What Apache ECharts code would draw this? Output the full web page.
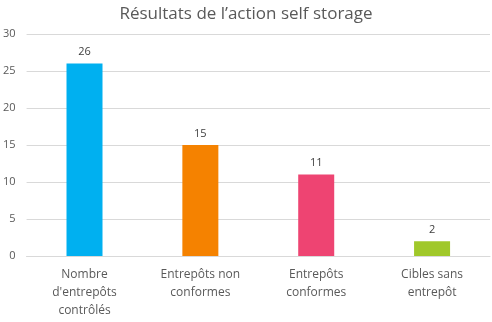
<!DOCTYPE html>
<html>
<head>
<meta charset="utf-8">
<style>
  html, body { margin: 0; padding: 0; background: #ffffff; }
  #chart { width: 492px; height: 322px; }
</style>
<script src="https://cdn.jsdelivr.net/npm/echarts@6/dist/echarts.min.js"></script>
</head>
<body>
<div id="chart"></div>
<script>
// Catégories et valeurs de l'action self storage
const categories = [
  "Nombre\nd'entrepôts\ncontrôlés",
  "Entrepôts non\nconformes",
  "Entrepôts\nconformes",
  "Cibles sans\nentrepôt"
];
const values = [26, 15, 11, 2];
const barColors = ['#00B0F0', '#F58200', '#EE4472', '#A0C82A'];
const yTicks = { min: 0, max: 30, interval: 5 };

const chart = echarts.init(document.getElementById('chart'), null, { renderer: 'canvas' });
const font = '"Open Sans", "Noto Sans", sans-serif';

chart.setOption({
  animation: false,
  title: {
    text: 'Résultats de l’action self storage',
    left: 'center',
    top: 1,
    textStyle: { color: '#595959', fontSize: 17, fontWeight: 'normal', fontFamily: font }
  },
  grid: { left: 26, right: 2, top: 34, bottom: 66, containLabel: false },
  xAxis: {
    type: 'category',
    data: categories,
    axisLine: { lineStyle: { color: '#D9D9D9' } },
    axisTick: { show: false },
    axisLabel: {
      color: '#595959', fontSize: 12, fontFamily: font,
      lineHeight: 18, margin: 10, interval: 0
    }
  },
  yAxis: {
    type: 'value',
    min: yTicks.min, max: yTicks.max, interval: yTicks.interval,
    axisLine: { show: false },
    axisTick: { show: false },
    splitLine: { lineStyle: { color: '#D9D9D9' } },
    axisLabel: { color: '#595959', fontSize: 11, fontFamily: font, margin: 11 }
  },
  series: [{
    type: 'bar',
    data: values.map((v, i) => ({ value: v, itemStyle: { color: barColors[i] } })),
    barWidth: 36,
    label: {
      show: true, position: 'top', distance: 6,
      color: '#404040', fontSize: 11, fontFamily: font
    }
  }]
});
</script>
</body>
</html>
